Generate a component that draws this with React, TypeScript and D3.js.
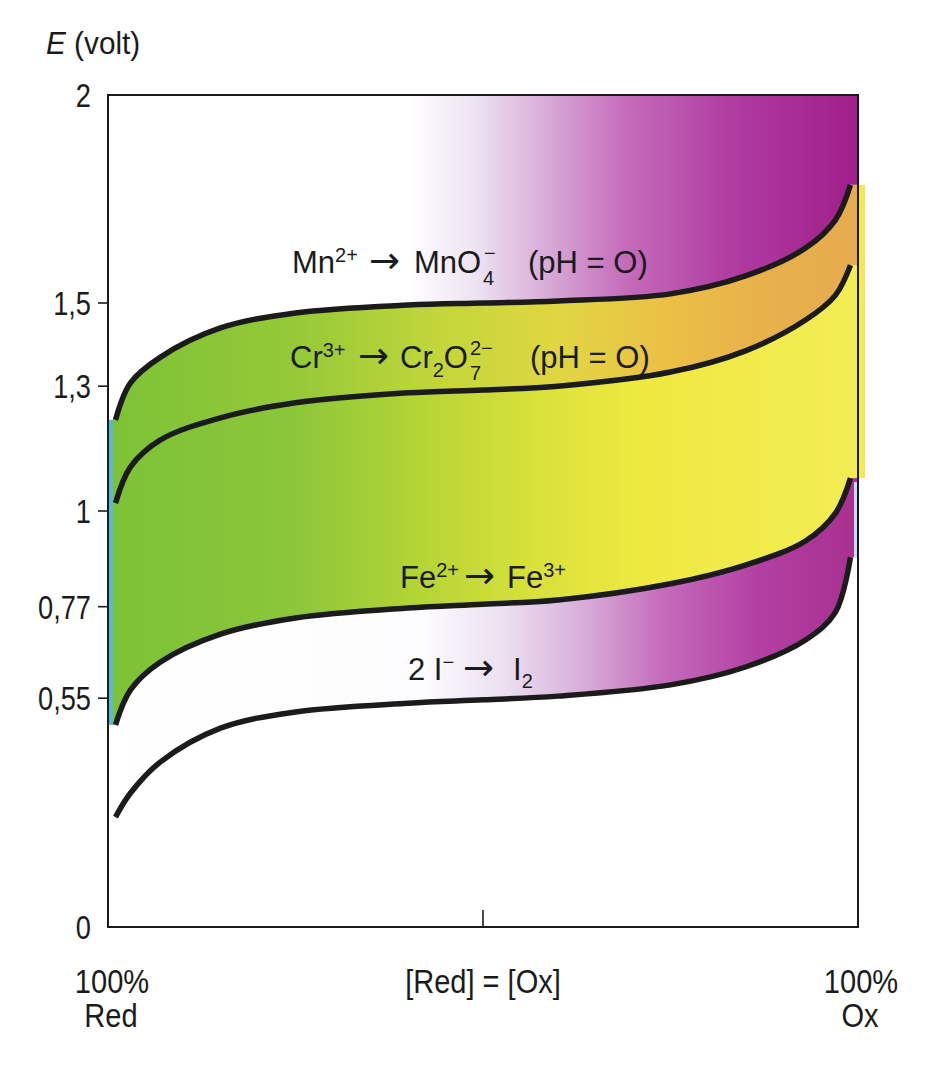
import React from 'react';
import * as d3 from 'd3';

// Fraction of the oxidised form (%), shared by all curves
const xPercent = [1, 3, 7, 15, 25, 40, 50, 60, 75, 85, 93, 97, 99];
// Potentials (V)
const eMn = [1.219, 1.308, 1.37, 1.44, 1.476, 1.495, 1.5, 1.505, 1.522, 1.565, 1.632, 1.7, 1.784];
const eCr = [1.019, 1.106, 1.171, 1.224, 1.26, 1.284, 1.291, 1.3, 1.334, 1.385, 1.459, 1.519, 1.591];
const eFe = [0.486, 0.57, 0.637, 0.704, 0.743, 0.767, 0.776, 0.786, 0.825, 0.87, 0.928, 0.995, 1.079];
const eI = [0.264, 0.322, 0.397, 0.478, 0.517, 0.538, 0.546, 0.555, 0.582, 0.625, 0.69, 0.757, 0.889];

const yTickValues = [2, 1.5, 1.3, 1, 0.77, 0.55, 0];
const yTickLabels = ['2', '1,5', '1,3', '1', '0,77', '0,55', '0'];
const yTickMarks = [1.5, 1.3, 1, 0.77, 0.55];

const W = 944;
const H = 1067;
const x = d3.scaleLinear().domain([0, 100]).range([108, 858]);
const y = d3.scaleLinear().domain([0, 2]).range([927, 95]);

const FONT = '"Liberation Sans", Arial, Helvetica, sans-serif';
const INK = '#1b1b1b';
const ARROW_FONT = '"DejaVu Sans", sans-serif';

const curve = d3.curveCatmullRom.alpha(0.5);

const line = d3
  .line<number>()
  .x((_, i) => x(xPercent[i]))
  .y((d) => y(d))
  .curve(curve);

function band(upper: number[], lower: number[]) {
  return d3
    .area<number>()
    .x((_, i) => x(xPercent[i]))
    .y1((_, i) => y(upper[i]))
    .y0((_, i) => y(lower[i]))
    .curve(curve)(upper) as string;
}

const top = eMn.map(() => 2);
const last = xPercent.length - 1;

function EdgeRects({ upper, lower, fill }: { upper: number[]; lower: number[]; fill: string }) {
  return (
    <g fill={fill}>
      <rect x={x(0)} y={y(upper[0])} width={x(xPercent[0]) - x(0) + 1} height={y(lower[0]) - y(upper[0])} />
      <rect
        x={x(xPercent[last]) - 1}
        y={y(upper[last])}
        width={x(100) - x(xPercent[last]) + 1}
        height={y(lower[last]) - y(upper[last])}
      />
    </g>
  );
}

function Grad({ id, stops }: { id: string; stops: [number, string][] }) {
  return (
    <linearGradient id={id} gradientUnits="userSpaceOnUse" x1={x(0)} x2={x(100)} y1={0} y2={0}>
      {stops.map(([o, c], i) => (
        <stop key={i} offset={o} stopColor={c} />
      ))}
    </linearGradient>
  );
}

const purpleStops: [number, string][] = [
  [0, '#ffffff'],
  [0.4, '#ffffff'],
  [0.49, '#ede3f1'],
  [0.58, '#d9aed8'],
  [0.69, '#c56cbb'],
  [0.83, '#b03da1'],
  [1, '#a01e8a'],
];
const purpleLowStops: [number, string][] = [
  [0, '#ffffff'],
  [0.42, '#fdfcfe'],
  [0.53, '#ebdff0'],
  [0.64, '#d7aad7'],
  [0.74, '#c56bbb'],
  [0.87, '#b23fa2'],
  [1, '#a8308f'],
];
const greenYellowStops: [number, string][] = [
  [0, '#7cc236'],
  [0.25, '#8cc63a'],
  [0.41, '#b3d435'],
  [0.57, '#d9e13a'],
  [0.71, '#eee940'],
  [1, '#f3ed55'],
];
const greenOrangeStops: [number, string][] = [
  [0, '#7cc236'],
  [0.25, '#95c938'],
  [0.45, '#c4d73a'],
  [0.6, '#e0d642'],
  [0.74, '#ebc145'],
  [0.87, '#e8b14a'],
  [1, '#e6ab4e'],
];

const SUP = 20;

function Arrow({ at }: { at: number }) {
  return (
    <tspan x={at} dy={0} fontFamily={ARROW_FONT} fontSize={37}>
      →
    </tspan>
  );
}

export default function App() {
  return (
    <svg
      width={W}
      height={H}
      style={{ display: 'block', background: '#fff', position: 'absolute', left: 0, top: 0 }}
      fontFamily={FONT}
    >
      <defs>
        <Grad id="gPurple" stops={purpleStops} />
        <Grad id="gPurpleLow" stops={purpleLowStops} />
        <Grad id="gGY" stops={greenYellowStops} />
        <Grad id="gGO" stops={greenOrangeStops} />
      </defs>

      {/* fills */}
      <path d={band(top, eMn)} fill="url(#gPurple)" />
      <EdgeRects upper={top} lower={eMn} fill="url(#gPurple)" />
      <path d={band(eCr, eFe)} fill="url(#gGY)" />
      <EdgeRects upper={eCr} lower={eFe} fill="url(#gGY)" />
      <path d={band(eMn, eCr)} fill="url(#gGO)" />
      <EdgeRects upper={eMn} lower={eCr} fill="url(#gGO)" />
      <path d={band(eFe, eI)} fill="url(#gPurpleLow)" />
      <EdgeRects upper={eFe} lower={eI} fill="url(#gPurpleLow)" />

      {/* edge strips */}
      <rect x={x(0)} y={y(eMn[0])} width={5} height={y(eFe[0]) - y(eMn[0])} fill="#5cb9d4" />
      <rect x={x(100)} y={y(eMn[last])} width={7} height={y(eFe[last]) - y(eMn[last])} fill="#f2ea50" />
      <rect x={x(100) - 4} y={y(eFe[last]) + 4} width={3} height={y(eI[last]) - y(eFe[last]) - 4} fill="#bfe0f0" />

      {/* curves */}
      <g fill="none" stroke={INK} strokeWidth={5.5} strokeLinecap="butt">
        {[eMn, eCr, eFe, eI].map((s, i) => (
          <path key={i} d={line(s) as string} />
        ))}
      </g>

      {/* frame */}
      <rect x={x(0)} y={y(2)} width={x(100) - x(0)} height={y(0) - y(2)} fill="none" stroke={INK} strokeWidth={2} />
      <g stroke={INK} strokeWidth={1.6}>
        {yTickMarks.map((v) => (
          <line key={v} x1={x(0) - 10} x2={x(0)} y1={y(v)} y2={y(v)} />
        ))}
        <line x1={x(50)} x2={x(50)} y1={y(0)} y2={y(0) - 17} />
      </g>

      {/* y tick labels */}
      <g fill={INK} fontSize={34} textAnchor="end">
        {yTickValues.map((v, i) => (
          <text key={v} transform={`translate(${x(0) - 17},${y(v) + 12}) scale(0.8,1)`}>
            {yTickLabels[i]}
          </text>
        ))}
      </g>

      {/* axis title */}
      <text transform="translate(46,54) scale(0.93,1)" fontSize={32} fill={INK}>
        <tspan fontStyle="italic">E</tspan> (volt)
      </text>

      {/* x labels */}
      <g fill={INK} fontSize={33} textAnchor="middle">
        <text transform={`translate(${x(0) + 4},993) scale(0.88,1)`}>100%</text>
        <text transform={`translate(${x(0) + 3},1027) scale(0.88,1)`}>Red</text>
        <text transform={`translate(${x(50)},993) scale(0.88,1)`}>[Red] = [Ox]</text>
        <text transform={`translate(${x(100) + 3},993) scale(0.88,1)`}>100%</text>
        <text transform={`translate(${x(100) + 2},1027) scale(0.88,1)`}>Ox</text>
      </g>

      {/* reaction labels */}
      <g fill={INK} fontSize={31}>
        {/* Mn2+ -> MnO4- (pH = O) */}
        <text x={292} y={273}>
          Mn
          <tspan dy={-11} fontSize={SUP}>2+</tspan>
          <tspan x={369} dy={11} fontFamily={ARROW_FONT} fontSize={37}>→</tspan>
          <tspan x={414}>MnO</tspan>
        </text>
        <text x={483} y={285} fontSize={SUP}>4</text>
        <text x={484} y={260} fontSize={SUP}>−</text>
        <text x={528} y={273}>(pH = O)</text>

        {/* Cr3+ -> Cr2O7 2- (pH = O) */}
        <text x={290} y={368}>
          Cr
          <tspan dy={-11} fontSize={SUP}>3+</tspan>
          <tspan x={358} dy={11} fontFamily={ARROW_FONT} fontSize={37}>→</tspan>
          <tspan x={400}>Cr</tspan>
          <tspan dy={9} fontSize={SUP}>2</tspan>
          <tspan dy={-9}>O</tspan>
        </text>
        <text x={470} y={380} fontSize={SUP}>7</text>
        <text x={470} y={355} fontSize={SUP}>2−</text>
        <text x={530} y={368}>(pH = O)</text>

        {/* Fe2+ -> Fe3+ */}
        <text x={400} y={588}>
          Fe
          <tspan dy={-11} fontSize={SUP}>2+</tspan>
          <tspan x={464} dy={11} fontFamily={ARROW_FONT} fontSize={37}>→</tspan>
          <tspan x={507}>Fe</tspan>
          <tspan dy={-11} fontSize={SUP}>3+</tspan>
        </text>

        {/* 2 I- -> I2 */}
        <text x={408} y={680}>
          2 I
          <tspan dy={-11} fontSize={SUP}>−</tspan>
          <tspan x={463} dy={11} fontFamily={ARROW_FONT} fontSize={37}>→</tspan>
          <tspan x={513}>I</tspan>
          <tspan dy={8} fontSize={SUP}>2</tspan>
        </text>
      </g>
    </svg>
  );
}
